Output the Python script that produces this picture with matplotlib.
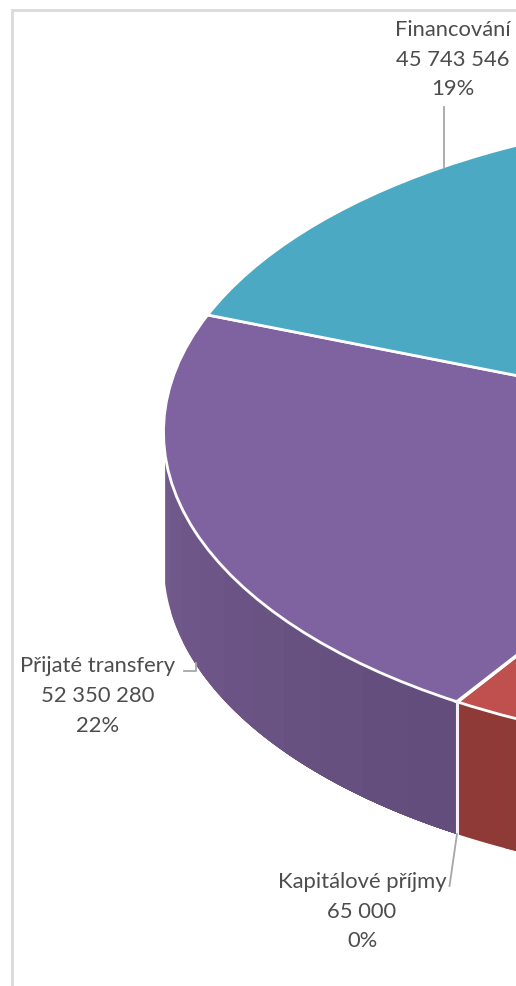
import numpy as np
import matplotlib
matplotlib.use("Agg")
import matplotlib.pyplot as plt
from matplotlib.colors import to_rgb
from matplotlib.transforms import Affine2D

W, H = 516, 987
categories = ["Daňové příjmy", "Nedaňové příjmy", "Kapitálové příjmy", "Přijaté transfery", "Financování"]
values = [110000000, 31841174, 65000, 52350280, 45743546]
colors = ["#4F81BD", "#C0504D", "#9BBB59", "#7F62A0", "#4BA9C4"]
side_left = ["#3F6797", "#8F3A37", "#7C9647", "#725A8C", "#3C879D"]
side_right = ["#3F6797", "#8A3633", "#7C9647", "#624D7C", "#3C879D"]
label_cats = ["Financování", "Přijaté transfery", "Kapitálové příjmy"]
label_centres = [(452.5, 59.5), (98, 696), (362, 911.5)]

CX, CY, A, B, DEPTH = 804.5, 433, 641, 321, 132
SIDE_START = 183.4

plt.rcParams["font.family"] = ["Lato", "DejaVu Sans"]
fig = plt.figure(figsize=(W / 100, H / 100), dpi=100, facecolor="white")
ax = fig.add_axes([0, 0, 1, 1])
px = Affine2D().scale(1 / W, -1 / H).translate(0, 1) + fig.transFigure

total = sum(values)
angles = 90 - 360 * np.cumsum([0] + values) / total  # clockwise from the top
d = DEPTH / B

# wall of the cylinder, front half only; each band overpaints the next to hide seams
for i in range(len(values)):
    end = angles[i] % 360 or 360
    begin = angles[i + 1] % 360
    if begin >= end:
        begin = SIDE_START
    begin = max(begin, SIDE_START)
    if begin >= end:
        continue
    n = 10
    edges = np.linspace(begin, end, n + 1)
    for k in range(n):
        t = np.radians(np.linspace(edges[k], end, 60))
        f = k / (n - 1)
        c = (1 - f) * np.array(to_rgb(side_left[i])) + f * np.array(to_rgb(side_right[i]))
        ax.fill_between(np.cos(t), np.sin(t), np.sin(t) - d, color=c, lw=0, zorder=1)

wedges, _ = ax.pie(values, colors=colors, startangle=90, counterclock=False, radius=1,
                   center=(0, 0), frame=True,
                   wedgeprops=dict(edgecolor="white", linewidth=2.0))
for w in wedges:
    w.set_zorder(2)

ax.set_aspect("auto")
ax.set_xlim((0 - CX) / A, (W - CX) / A)
ax.set_ylim((CY - H) / B, CY / B)
ax.set_xticks([])
ax.set_yticks([])
for s in ax.spines.values():
    s.set_visible(False)

# white seam down the wall at the slice boundary
seam = np.radians(angles[3])
ax.plot([np.cos(seam)] * 2, [np.sin(seam), np.sin(seam) - d], color="#F4EEF6", lw=2.2, zorder=3)

# chart-area border
ax.plot([11.5, 11.5, W], [H, 11, 11], color="#DADADA", lw=2, transform=px, zorder=0, solid_joinstyle="miter")

# leader lines
lead = "#A6A6A6"
ax.plot([444, 444], [108, 168], color=lead, lw=1.3, transform=px, zorder=4)
ax.plot([184, 195.5, 195.5], [672, 672, 664], color=lead, lw=1.3, transform=px, zorder=1.5)
ax.plot([457, 449.5], [835, 887], color=lead, lw=1.3, transform=px, zorder=4)

# data labels
for name, (x, y) in zip(label_cats, label_centres):
    v = values[categories.index(name)]
    txt = f"{name}\n{v:,}\n{round(100 * v / total)}%".replace(",", " ")
    ax.text(x, y, txt, transform=px, ha="center", va="center", ma="center",
            fontsize=15.8, color="#4D4D4D", linespacing=1.62, zorder=5)

fig.savefig("out.png", dpi=100, facecolor="white")
